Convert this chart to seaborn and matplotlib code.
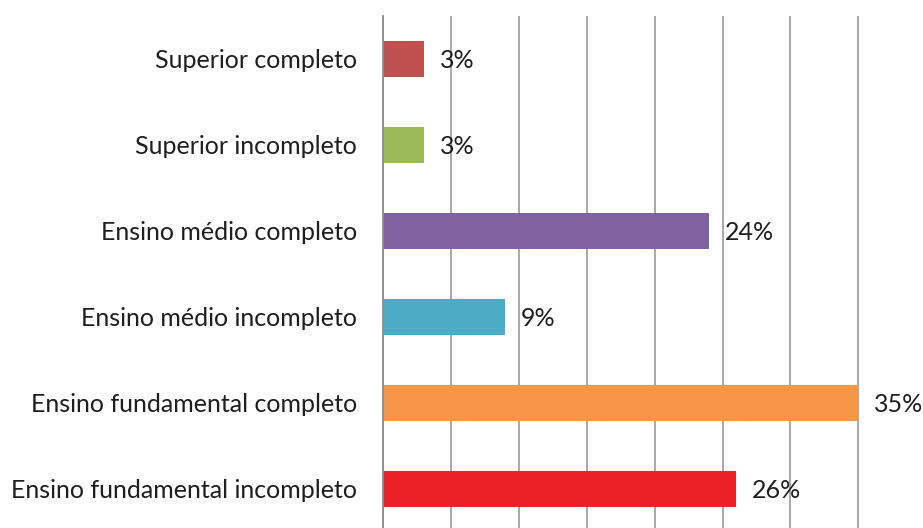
import matplotlib
matplotlib.use("Agg")
import matplotlib.pyplot as plt
import seaborn as sns
import pandas as pd

categories = [
    "Superior completo",
    "Superior incompleto",
    "Ensino médio completo",
    "Ensino médio incompleto",
    "Ensino fundamental completo",
    "Ensino fundamental incompleto",
]
values = [3, 3, 24, 9, 35, 26]
colors = ["#C0504D", "#9BBB59", "#8064A2", "#4BACC6", "#F79646", "#EC2027"]

df = pd.DataFrame({"categoria": categories, "valor": values})

sns.set_style("white")
plt.rcParams["font.family"] = ["Lato", "DejaVu Sans"]

fig = plt.figure(figsize=(9.23, 5.28), dpi=100)
W, H = 923, 528
x0, x1 = 383, 383 + 8 * 67.9
y_top, y_bot = 16, 532
ax = fig.add_axes([x0 / W, (H - y_bot) / H, (x1 - x0) / W, (y_bot - y_top) / H])

sns.barplot(data=df, y="categoria", x="valor", hue="categoria", palette=colors,
            orient="h", width=0.41, legend=False, ax=ax, saturation=1,
            linewidth=0)

ax.set_xlim(0, 40)
ax.set_ylim(len(categories) - 0.5, -0.5)
ax.set_xticks(range(0, 41, 5))
ax.set_xticklabels([])
ax.tick_params(axis="x", length=0)
ax.grid(axis="x", color="#9a9a9a", linewidth=1.2)
ax.set_axisbelow(True)

for side in ["top", "right", "bottom"]:
    ax.spines[side].set_visible(False)
ax.spines["left"].set_color("#8c8c8c")
ax.spines["left"].set_linewidth(1.3)

# category labels centred on bars, tick marks on the boundaries
ax.set_yticks([i - 0.5 for i in range(len(categories) + 1)])
ax.set_yticklabels([])
ax.tick_params(axis="y", length=7, width=1.3, color="#8c8c8c", direction="out")
px = 40 / (x1 - x0)
for i, c in enumerate(categories):
    ax.text(-26 * px, i + 0.02, c, ha="right", va="center",
            fontsize=18, color="#1e1e1e")

ax.set_xlabel("")
ax.set_ylabel("")

for i, v in enumerate(values):
    ax.text(v + 16 * px, i + 0.02, f"{v}%", ha="left", va="center",
            fontsize=18, color="#1e1e1e", clip_on=False)

fig.savefig("out.png", dpi=100)
